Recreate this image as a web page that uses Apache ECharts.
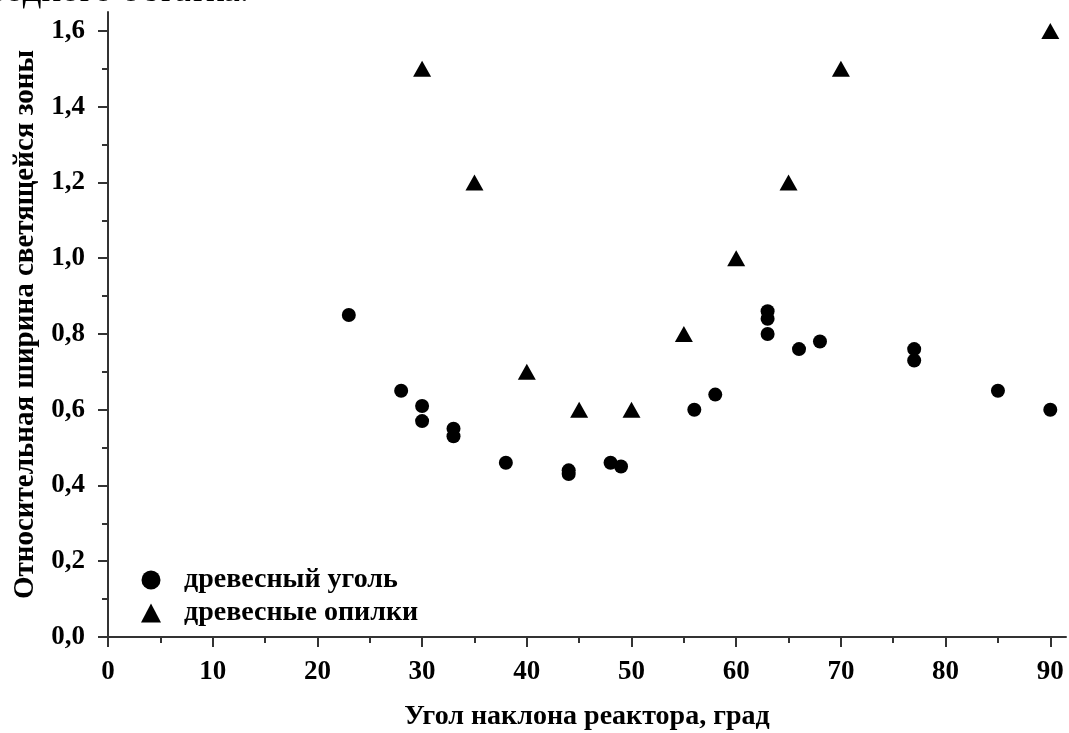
<!DOCTYPE html>
<html><head><meta charset="utf-8">
<script src="https://cdn.jsdelivr.net/npm/echarts@6/dist/echarts.min.js"></script>
<style>html,body{margin:0;padding:0;background:#fff}#c{width:1069px;height:733px}</style>
</head><body><div id="c"></div>
<script>
const coalX = [23, 28, 30, 30, 33, 33, 38, 44, 44, 48, 49, 56, 58, 63, 63, 63, 66, 68, 77, 77, 85, 90];
const coalY = [0.85, 0.65, 0.61, 0.57, 0.55, 0.53, 0.46, 0.44, 0.43, 0.46, 0.45, 0.60, 0.64, 0.86, 0.84, 0.80, 0.76, 0.78, 0.76, 0.73, 0.65, 0.60];
const sawX = [30, 35, 40, 45, 50, 55, 60, 65, 70, 90];
const sawY = [1.5, 1.2, 0.7, 0.6, 0.6, 0.8, 1.0, 1.2, 1.5, 1.6];
const xMajor = [0, 10, 20, 30, 40, 50, 60, 70, 80, 90];
const xMinor = [5, 15, 25, 35, 45, 55, 65, 75, 85];
const yMajor = [0, 0.2, 0.4, 0.6, 0.8, 1.0, 1.2, 1.4, 1.6];
const yMinor = [0.1, 0.3, 0.5, 0.7, 0.9, 1.1, 1.3, 1.5];
const seriesNames = ['древесный уголь', 'древесные опилки'];
const xTitle = 'Угол наклона реактора, град';
const yTitle = 'Относительная ширина светящейся зоны';

const FONT = 'Liberation Serif';
const lineStyle = {color: '#333', width: 2};
const chart = echarts.init(document.getElementById('c'), null, {renderer: 'canvas'});
const baseAxis = (min, max) => ({type: 'value', min, max, splitLine: {show: false}});
chart.setOption({
  animation: false,
  backgroundColor: '#fff',
  graphic: [{type: 'text', left: -12, top: -27, style: {text: 'водного остатка.', font: '37px "Liberation Serif"', fill: '#000'}}],
  grid: {left: 108, right: 3, top: 12, bottom: 96, outerBoundsMode: 'none', containLabel: false},
  legend: {
    orient: 'vertical', left: 136, top: 561, itemGap: 5, itemWidth: 20, itemHeight: 19,
    textStyle: {fontFamily: FONT, fontWeight: 'bold', fontSize: 28, color: '#000', padding: [0, 0, 0, 18]},
    data: [{name: seriesNames[0], icon: 'circle'}, {name: seriesNames[1], icon: 'triangle'}]
  },
  xAxis: [
    Object.assign(baseAxis(0, 91.5), {
      name: xTitle, nameLocation: 'middle', nameGap: 66,
      nameTextStyle: {fontFamily: FONT, fontWeight: 'bold', fontSize: 28, color: '#000'},
      axisLine: {lineStyle},
      axisTick: {show: true, length: 10, lineStyle, customValues: xMajor},
      axisLabel: {customValues: xMajor, margin: 22, fontFamily: FONT, fontWeight: 'bold', fontSize: 27, color: '#000', formatter: v => String(v)}
    }),
    Object.assign(baseAxis(0, 91.5), {
      position: 'bottom', axisLine: {show: false},
      axisTick: {show: true, length: 6, lineStyle, customValues: xMinor},
      axisLabel: {show: false}
    })
  ],
  yAxis: [
    Object.assign(baseAxis(0, 1.65), {
      name: yTitle, nameLocation: 'middle', nameGap: 67,
      nameTextStyle: {fontFamily: FONT, fontWeight: 'bold', fontSize: 29, color: '#000'},
      axisLine: {lineStyle},
      axisTick: {show: true, length: 10, lineStyle, customValues: yMajor},
      axisLabel: {customValues: yMajor, margin: 23, fontFamily: FONT, fontWeight: 'bold', fontSize: 27, color: '#000',
        formatter: v => v.toFixed(1).replace('.', ',')}
    }),
    Object.assign(baseAxis(0, 1.65), {
      position: 'left', axisLine: {show: false},
      axisTick: {show: true, length: 6, lineStyle, customValues: yMinor},
      axisLabel: {show: false}
    })
  ],
  series: [
    {name: seriesNames[0], type: 'scatter', symbol: 'circle', symbolSize: 14,
      itemStyle: {color: '#000', opacity: 1}, data: coalX.map((x, i) => [x, coalY[i]])},
    {name: seriesNames[1], type: 'scatter', symbol: 'triangle', symbolSize: [18, 16],
      itemStyle: {color: '#000', opacity: 1}, data: sawX.map((x, i) => [x, sawY[i]])}
  ]
});
</script></body></html>
